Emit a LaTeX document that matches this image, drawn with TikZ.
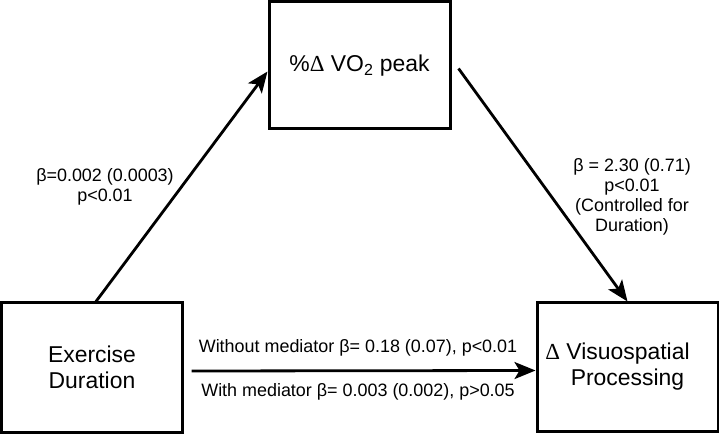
\documentclass[tikz,border=0pt]{standalone}
\usepackage{fontspec}
\setmainfont{Liberation Sans}
\newfontfamily\deltafont{Liberation Serif}
\usetikzlibrary{arrows.meta}
\tikzset{
  box/.style={draw=black, line width=3bp, inner sep=0pt, align=center,
    font=\fontsize{23}{26}\selectfont},
  lbl/.style={align=center, inner sep=0pt, font=\fontsize{18}{20}\selectfont},
  conn/.style={line width=2.8bp, -{Stealth[length=21bp,width=17bp,inset=5bp]}}
}
\begin{document}
\begin{tikzpicture}[x=1bp,y=-1bp]
\useasboundingbox (0,0) rectangle (719,434);
\node[box, minimum width=181bp, minimum height=127bp] (vo) at (359.5,65.5)
  {\raisebox{4bp}{\%{\deltafont Δ} VO\textsubscript{2} peak}};
\node[box, minimum width=180bp, minimum height=129bp] (ex) at (92,367.5)
  {Exercise\\Duration};
\node[box, minimum width=181bp, minimum height=128bp] (vp) at (627.5,367)
  {{\deltafont Δ} Visuospatial\hspace*{20bp}\\Processing};
\draw[conn] ([xshift=4bp]ex.north) -- ([yshift=-6bp]vo.west);
\draw[conn] ([xshift=7bp,yshift=-3bp]vo.east) -- (vp.north);
\draw[conn] ([xshift=8bp,yshift=-3.5bp]ex.east) -- ([yshift=-3.5bp]vp.west);
\node[lbl] (la) at (105,187) {β=0.002 (0.0003)\\p<0.01};
\node[lbl] (lb) at (632,197) {β = 2.30 (0.71)\\p<0.01\\(Controlled for\\Duration)};
\node[lbl] (lc) at (358,348) {Without mediator β= 0.18 (0.07), p<0.01};
\node[lbl] (ld) at (358,392) {With mediator β= 0.003 (0.002), p>0.05};
\end{tikzpicture}
\end{document}
